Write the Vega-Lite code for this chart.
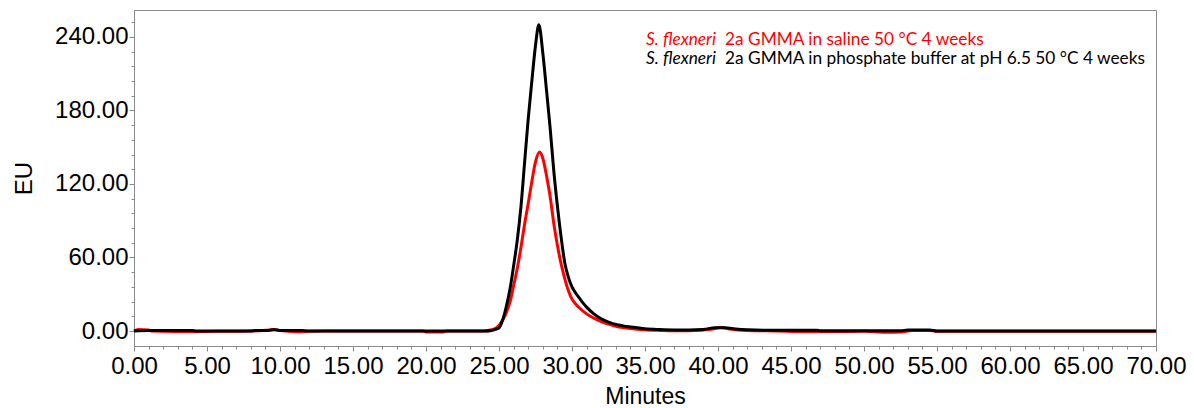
{
  "$schema": "https://vega.github.io/schema/vega-lite/v6.json",
  "autosize": {"type": "none"},
  "width": 1022,
  "height": 336,
  "padding": {"left": 134, "top": 10, "right": 38, "bottom": 62},
  "background": "white",
  "config": {
    "view": {"stroke": "#8a8a8a", "strokeWidth": 1},
    "axis": {"domainColor": "#8a8a8a", "tickColor": "#8a8a8a", "grid": false, "labelFont": "Liberation Sans", "titleFont": "Liberation Sans", "labelColor": "#000", "titleColor": "#000", "titleFontWeight": "normal"}
  },
  "datasets": {
    "trace": [
      {"s":"saline","m":0,"v":0},{"s":"saline","m":0.3,"v":1.2},{"s":"saline","m":1,"v":0.8},{"s":"saline","m":1.2,"v":0},{"s":"saline","m":4.2,"v":-0.5},{"s":"saline","m":5.5,"v":-0.3},{"s":"saline","m":8,"v":0},{"s":"saline","m":9.3,"v":0.8},{"s":"saline","m":9.6,"v":1.2},{"s":"saline","m":10,"v":0.3},{"s":"saline","m":11.2,"v":-0.6},{"s":"saline","m":12,"v":-0.3},{"s":"saline","m":13,"v":0},{"s":"saline","m":19.8,"v":0},{"s":"saline","m":20,"v":-0.8},{"s":"saline","m":21.2,"v":-0.8},{"s":"saline","m":21.4,"v":0},{"s":"saline","m":24,"v":0},{"s":"saline","m":24.5,"v":1},{"s":"saline","m":24.8,"v":2.5},{"s":"saline","m":25,"v":4.5},{"s":"saline","m":25.25,"v":9},{"s":"saline","m":25.5,"v":15},{"s":"saline","m":25.75,"v":23.5},{"s":"saline","m":26,"v":37},{"s":"saline","m":26.25,"v":51},{"s":"saline","m":26.5,"v":68},{"s":"saline","m":26.75,"v":87},{"s":"saline","m":27,"v":104},{"s":"saline","m":27.25,"v":122},{"s":"saline","m":27.5,"v":138},{"s":"saline","m":27.78,"v":146},{"s":"saline","m":28,"v":141},{"s":"saline","m":28.25,"v":127},{"s":"saline","m":28.5,"v":110},{"s":"saline","m":28.75,"v":88},{"s":"saline","m":29,"v":70},{"s":"saline","m":29.25,"v":55},{"s":"saline","m":29.5,"v":43},{"s":"saline","m":29.75,"v":33},{"s":"saline","m":30,"v":26},{"s":"saline","m":30.25,"v":22},{"s":"saline","m":30.5,"v":19},{"s":"saline","m":31,"v":14},{"s":"saline","m":31.5,"v":10.5},{"s":"saline","m":32,"v":7.7},{"s":"saline","m":32.5,"v":5.6},{"s":"saline","m":33,"v":3.9},{"s":"saline","m":33.5,"v":2.8},{"s":"saline","m":34,"v":2},{"s":"saline","m":35,"v":1},{"s":"saline","m":36,"v":0.5},{"s":"saline","m":37,"v":0.2},{"s":"saline","m":38,"v":0.3},{"s":"saline","m":39.5,"v":1.4},{"s":"saline","m":40.2,"v":2.8},{"s":"saline","m":40.8,"v":1.6},{"s":"saline","m":42,"v":0.4},{"s":"saline","m":44,"v":0},{"s":"saline","m":46,"v":-0.5},{"s":"saline","m":48,"v":-0.5},{"s":"saline","m":50,"v":-0.3},{"s":"saline","m":51.5,"v":-1},{"s":"saline","m":52.5,"v":-0.8},{"s":"saline","m":53.3,"v":0.5},{"s":"saline","m":54.5,"v":0.5},{"s":"saline","m":55,"v":-0.3},{"s":"saline","m":70,"v":-0.3},
      {"s":"phosphate","m":0,"v":0},{"s":"phosphate","m":0.3,"v":0.3},{"s":"phosphate","m":1,"v":0.4},{"s":"phosphate","m":4,"v":0.4},{"s":"phosphate","m":4.3,"v":0},{"s":"phosphate","m":8,"v":0},{"s":"phosphate","m":8.3,"v":0.4},{"s":"phosphate","m":9.2,"v":0.5},{"s":"phosphate","m":9.6,"v":1},{"s":"phosphate","m":10,"v":0.5},{"s":"phosphate","m":11.5,"v":0.4},{"s":"phosphate","m":12,"v":0},{"s":"phosphate","m":20,"v":0},{"s":"phosphate","m":24,"v":0},{"s":"phosphate","m":24.5,"v":0.4},{"s":"phosphate","m":24.8,"v":1.5},{"s":"phosphate","m":25,"v":2.5},{"s":"phosphate","m":25.25,"v":9},{"s":"phosphate","m":25.5,"v":20},{"s":"phosphate","m":25.75,"v":34},{"s":"phosphate","m":26,"v":53},{"s":"phosphate","m":26.25,"v":74},{"s":"phosphate","m":26.5,"v":101},{"s":"phosphate","m":26.75,"v":137},{"s":"phosphate","m":27,"v":173},{"s":"phosphate","m":27.25,"v":204},{"s":"phosphate","m":27.5,"v":233},{"s":"phosphate","m":27.73,"v":250},{"s":"phosphate","m":28,"v":227},{"s":"phosphate","m":28.25,"v":197},{"s":"phosphate","m":28.5,"v":166},{"s":"phosphate","m":28.75,"v":131},{"s":"phosphate","m":29,"v":102},{"s":"phosphate","m":29.25,"v":77},{"s":"phosphate","m":29.5,"v":56},{"s":"phosphate","m":29.75,"v":44},{"s":"phosphate","m":30,"v":36},{"s":"phosphate","m":30.25,"v":31},{"s":"phosphate","m":30.5,"v":27},{"s":"phosphate","m":30.75,"v":23},{"s":"phosphate","m":31,"v":19.5},{"s":"phosphate","m":31.5,"v":14},{"s":"phosphate","m":32,"v":10},{"s":"phosphate","m":32.5,"v":7.3},{"s":"phosphate","m":33,"v":5.4},{"s":"phosphate","m":33.5,"v":4.2},{"s":"phosphate","m":34,"v":3.3},{"s":"phosphate","m":35,"v":1.8},{"s":"phosphate","m":36,"v":1.2},{"s":"phosphate","m":37,"v":0.9},{"s":"phosphate","m":38,"v":0.9},{"s":"phosphate","m":39,"v":1.3},{"s":"phosphate","m":39.8,"v":2.6},{"s":"phosphate","m":40.5,"v":2.6},{"s":"phosphate","m":41.2,"v":1.6},{"s":"phosphate","m":42,"v":1},{"s":"phosphate","m":44,"v":0.6},{"s":"phosphate","m":46.8,"v":0.6},{"s":"phosphate","m":47,"v":0.2},{"s":"phosphate","m":52.5,"v":0.2},{"s":"phosphate","m":53,"v":0.8},{"s":"phosphate","m":54.5,"v":0.8},{"s":"phosphate","m":55,"v":0},{"s":"phosphate","m":70,"v":0}
    ],
    "labels": [
      {"s":"saline","m":35.07,"v":237.5,"lead":"S. flexneri","rest":"2a GMMA in saline 50 °C 4 weeks"},
      {"s":"phosphate","m":35.07,"v":222.1,"lead":"S. flexneri","rest":"2a GMMA in phosphate buffer at pH 6.5 50 °C 4 weeks"}
    ]
  },
  "resolve": {"axis": {"x": "independent", "y": "independent"}},
  "layer": [
    {
      "data": {"name": "trace"},
      "transform": [{"filter": "datum.s === 'saline'"}],
      "mark": {"type": "line", "strokeWidth": 3, "interpolate": "monotone"},
      "encoding": {
        "x": {"field": "m", "type": "quantitative", "scale": {"domain": [0, 70], "nice": false, "zero": false},
          "axis": {"orient": "bottom", "values": [0,5,10,15,20,25,30,35,40,45,50,55,60,65,70], "format": ".2f", "labelFontSize": 24, "labelFlush": false, "labelOverlap": false, "tickSize": 5, "labelPadding": 3, "title": "Minutes", "titleFontSize": 23, "titlePadding": 7}},
        "y": {"field": "v", "type": "quantitative", "scale": {"domain": [-12.24, 262], "nice": false, "zero": false},
          "axis": {"orient": "left", "values": [0,60,120,180,240], "format": ".2f", "labelFontSize": 24, "tickSize": 5, "labelPadding": 1, "title": "EU", "titleFontSize": 24, "titlePadding": 18}},
        "color": {"field": "s", "type": "nominal", "scale": {"domain": ["saline","phosphate"], "range": ["#ff0000","#000000"]}, "legend": null}
      }
    },
    {
      "data": {"name": "trace"},
      "transform": [{"filter": "datum.s === 'phosphate'"}],
      "mark": {"type": "line", "strokeWidth": 3, "interpolate": "monotone"},
      "encoding": {
        "x": {"field": "m", "type": "quantitative",
          "axis": {"orient": "bottom", "values": [1,2,3,4,6,7,8,9,11,12,13,14,16,17,18,19,21,22,23,24,26,27,28,29,31,32,33,34,36,37,38,39,41,42,43,44,46,47,48,49,51,52,53,54,56,57,58,59,61,62,63,64,66,67,68,69], "labels": false, "domain": false, "tickSize": 3, "title": null}},
        "y": {"field": "v", "type": "quantitative",
          "axis": {"orient": "left", "values": [12,24,36,48,72,84,96,108,132,144,156,168,192,204,216,228,252], "labels": false, "domain": false, "tickSize": 3, "title": null}},
        "color": {"field": "s", "type": "nominal", "legend": null}
      }
    },
    {
      "data": {"name": "labels"},
      "mark": {"type": "text", "font": "Lato", "fontSize": 17.3, "fontStyle": "italic", "align": "left", "baseline": "middle"},
      "encoding": {
        "x": {"field": "m", "type": "quantitative", "axis": null},
        "y": {"field": "v", "type": "quantitative", "axis": null},
        "text": {"field": "lead"},
        "color": {"field": "s", "type": "nominal", "legend": null}
      }
    },
    {
      "data": {"name": "labels"},
      "mark": {"type": "text", "font": "Lato", "fontSize": 17.3, "align": "left", "baseline": "middle", "dx": 79},
      "encoding": {
        "x": {"field": "m", "type": "quantitative", "axis": null},
        "y": {"field": "v", "type": "quantitative", "axis": null},
        "text": {"field": "rest"},
        "color": {"field": "s", "type": "nominal", "legend": null}
      }
    }
  ]
}
